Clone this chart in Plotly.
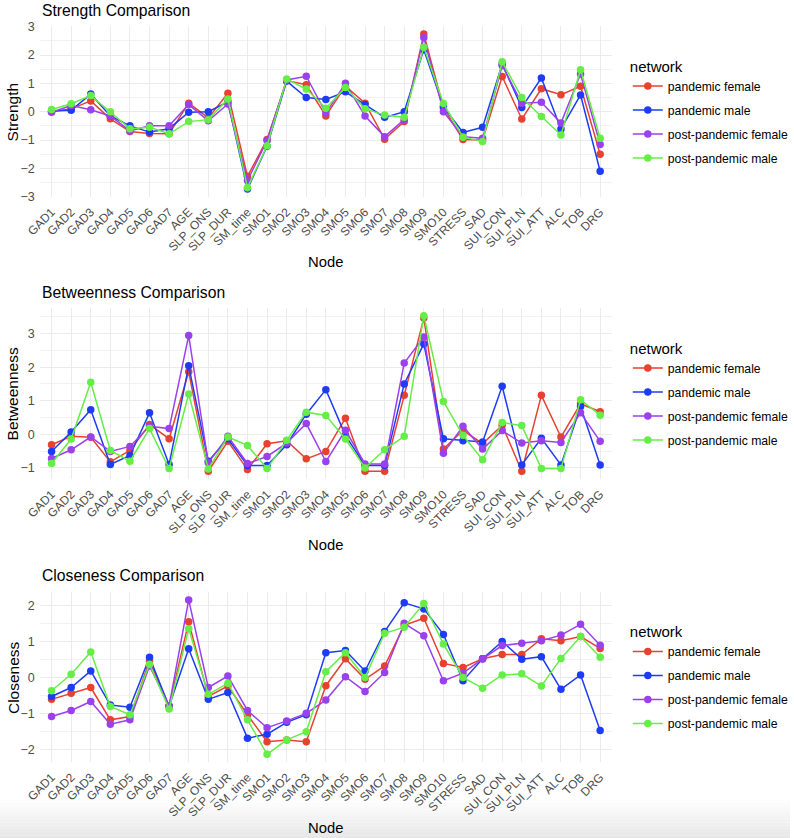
import plotly.graph_objects as go

nodes = ["GAD1", "GAD2", "GAD3", "GAD4", "GAD5", "GAD6", "GAD7", "AGE", "SLP_ONS", "SLP_DUR",
         "SM_time", "SMO1", "SMO2", "SMO3", "SMO4", "SMO5", "SMO6", "SMO7", "SMO8", "SMO9",
         "SMO10", "STRESS", "SAD", "SUI_CON", "SUI_PLN", "SUI_ATT", "ALC", "TOB", "DRG"]

networks = ["pandemic female", "pandemic male", "post-pandemic female", "post-pandemic male"]
colors = ["#E8412F", "#1E3CF5", "#9B40EE", "#64EE46"]

# Strength
str_pf = [0.00, 0.10, 0.38, -0.25, -0.70, -0.77, -0.78, 0.30, -0.22, 0.65,
          -2.28, -0.98, 1.10, 0.95, -0.15, 0.90, 0.30, -0.97, -0.35, 2.74,
          0.13, -0.98, -1.00, 1.24, -0.26, 0.81, 0.60, 0.90, -1.50]
str_pm = [0.02, 0.05, 0.62, -0.15, -0.50, -0.72, -0.60, -0.02, 0.00, 0.35,
          -2.73, -1.22, 1.08, 0.50, 0.43, 0.70, 0.25, -0.20, 0.00, 2.19,
          0.18, -0.73, -0.55, 1.68, 0.15, 1.19, -0.61, 0.59, -2.10]
str_ppf = [-0.02, 0.22, 0.07, -0.15, -0.68, -0.50, -0.50, 0.25, -0.32, 0.27,
           -2.43, -1.02, 1.12, 1.25, -0.05, 1.00, -0.15, -0.88, -0.28, 2.62,
           0.00, -0.88, -0.94, 1.63, 0.30, 0.33, -0.40, 1.33, -1.16]
str_ppm = [0.08, 0.28, 0.57, 0.00, -0.60, -0.55, -0.78, -0.35, -0.28, 0.45,
           -2.68, -1.20, 1.15, 0.80, 0.12, 0.85, 0.10, -0.12, -0.20, 2.27,
           0.29, -0.90, -1.05, 1.76, 0.50, -0.17, -0.82, 1.48, -0.94]

# Betweenness
bet_pf = [-0.31, -0.06, -0.09, -0.82, -0.48, 0.29, -0.13, 1.86, -1.10, -0.21,
          -1.05, -0.28, -0.19, -0.73, -0.51, 0.48, -1.10, -1.10, 1.16, 3.46,
          -0.44, 0.12, -0.28, 0.27, -1.10, 1.16, -0.08, 0.91, 0.67]
bet_pm = [-0.51, 0.07, 0.73, -0.90, -0.63, 0.64, -0.90, 2.04, -0.80, -0.13,
          -0.93, -0.93, -0.31, 0.60, 1.33, -0.03, -0.93, -0.93, 1.50, 2.69,
          -0.13, -0.19, -0.23, 1.43, -0.91, -0.12, -0.91, 0.83, -0.91]
bet_ppf = [-0.72, -0.46, -0.08, -0.51, -0.36, 0.24, 0.17, 2.94, -0.85, -0.06,
           -0.87, -0.66, -0.26, 0.32, -0.81, 0.12, -0.88, -0.88, 2.12, 2.90,
           -0.56, 0.24, -0.44, 0.11, -0.26, -0.19, -0.24, 0.64, -0.21]
bet_ppm = [-0.87, -0.14, 1.55, -0.48, -0.80, 0.17, -1.02, 1.20, -1.03, -0.08,
           -0.33, -1.02, -0.18, 0.66, 0.56, -0.14, -1.00, -0.46, -0.06, 3.53,
           0.98, -0.03, -0.76, 0.35, 0.26, -1.02, -1.02, 1.03, 0.57]

# Closeness
clo_pf = [-0.61, -0.44, -0.28, -1.18, -1.09, 0.46, -0.80, 1.55, -0.53, -0.24,
          -1.04, -1.79, -1.74, -1.79, -0.23, 0.52, -0.05, 0.32, 1.45, 1.65,
          0.39, 0.28, 0.52, 0.64, 0.64, 1.08, 1.02, 1.14, 0.81]
clo_pm = [-0.53, -0.28, 0.18, -0.77, -0.83, 0.56, -0.80, 0.80, -0.61, -0.42,
          -1.69, -1.58, -1.25, -1.04, 0.69, 0.75, 0.18, 1.28, 2.08, 1.91,
          1.20, -0.09, 0.52, 1.00, 0.51, 0.58, -0.33, 0.07, -1.48]
clo_ppf = [-1.09, -0.92, -0.67, -1.30, -1.18, 0.32, -0.79, 2.16, -0.28, 0.04,
           -0.92, -1.40, -1.21, -1.00, -0.63, 0.02, -0.39, 0.14, 1.51, 1.16,
           -0.09, 0.12, 0.52, 0.89, 0.95, 1.02, 1.18, 1.48, 0.90]
clo_ppm = [-0.37, 0.09, 0.71, -0.81, -1.04, 0.37, -0.88, 1.36, -0.47, -0.16,
           -1.18, -2.14, -1.74, -1.51, 0.16, 0.69, 0.00, 1.23, 1.40, 2.06,
           0.93, 0.00, -0.30, 0.07, 0.10, -0.24, 0.53, 1.14, 0.56]

panels = [
    ("Strength Comparison", "Strength", [str_pf, str_pm, str_ppf, str_ppm]),
    ("Betweenness Comparison", "Betweenness", [bet_pf, bet_pm, bet_ppf, bet_ppm]),
    ("Closeness Comparison", "Closeness", [clo_pf, clo_pm, clo_ppf, clo_ppm]),
]

W, H = 794, 838
FONT = "Liberation Sans, Arial, Helvetica, sans-serif"

# pixel geometry (top, bottom) of each plotting panel
panel_px = [(26.4, 196.7), (308.0, 479.0), (592.2, 762.0)]
yranges = [[-3.0, 3.01], [-1.33, 3.76], [-2.355, 2.375]]
title_y = [10, 292, 575]
node_y = [262, 545, 828]
x0, x1 = 40, 615

fig = go.Figure()
layout = dict(
    width=W, height=H, margin=dict(l=0, r=0, t=0, b=0),
    paper_bgcolor="white", plot_bgcolor="white",
    font=dict(family=FONT, color="#000000"),
    showlegend=True,
    annotations=[],
    shapes=[],
)

for i, (title, ylab, series) in enumerate(panels):
    k = "" if i == 0 else str(i + 1)
    xa, ya = "x" + k, "y" + k
    leg = "legend" + k
    for name, col, vals in zip(networks, colors, series):
        fig.add_trace(go.Scatter(
            x=nodes, y=vals, name=name, mode="lines+markers",
            line=dict(color=col, width=1.5),
            marker=dict(color=col, size=7.5),
            xaxis=xa, yaxis=ya, legend=leg, legendgroup=name + k,
        ))
    top, bot = panel_px[i]
    layout["xaxis" + k] = dict(
        domain=[x0 / W, x1 / W], anchor=ya, type="category",
        categoryorder="array", categoryarray=nodes,
        range=[-0.6, len(nodes) - 0.4],
        showgrid=True, gridcolor="#EBEBEB", gridwidth=1,
        zeroline=False, showline=False, ticks="",
        tickangle=-45, tickfont=dict(size=12, color="#4D4D4D", family=FONT),
        ticklabelstandoff=5,
        automargin=False,
    )
    layout["yaxis" + k] = dict(
        domain=[1 - bot / H, 1 - top / H], anchor=xa,
        range=yranges[i], dtick=1, tick0=0,
        showgrid=True, gridcolor="#EBEBEB", gridwidth=1.1,
        minor=dict(dtick=0.5, tick0=0, showgrid=True, gridcolor="#F2F2F2", gridwidth=0.6),
        zeroline=False, showline=False, ticks="",
        tickfont=dict(size=12.5, color="#4D4D4D", family=FONT),
        ticklabelstandoff=4,
        automargin=False,
    )
    mid = (top + bot) / 2
    layout[leg] = dict(
        x=631 / W, xanchor="left", y=1 - (mid + 1) / H, yanchor="middle",
        title=dict(text="network", font=dict(size=15, family=FONT, color="#000000")),
        font=dict(size=12.2, family=FONT, color="#000000"),
        bgcolor="rgba(0,0,0,0)", tracegroupgap=5, itemwidth=30,
    )
    layout["annotations"] += [
        dict(text=title, x=x0 / W, y=1 - title_y[i] / H, xref="paper", yref="paper",
             xanchor="left", yanchor="middle", showarrow=False,
             font=dict(size=15.7, family=FONT, color="#000000")),
        dict(text=ylab, x=13 / W, y=1 - mid / H, xref="paper", yref="paper",
             xanchor="center", yanchor="middle", showarrow=False, textangle=-90,
             font=dict(size=15.5, family=FONT, color="#000000")),
        dict(text="Node", x=((x0 + x1) / 2) / W, y=1 - node_y[i] / H, xref="paper", yref="paper",
             xanchor="center", yanchor="middle", showarrow=False,
             font=dict(size=14.8, family=FONT, color="#000000")),
    ]

# soft grey shading along the bottom edge (as in the reference screenshot)
shade_steps = 12
for s in range(shade_steps):
    ytop = 800 + s * 3.2
    g = int(255 - (s + 1) * 2)
    layout["shapes"].append(dict(
        type="rect", xref="paper", yref="paper", x0=0, x1=1,
        y0=1 - (ytop + 3.2) / H, y1=1 - ytop / H,
        fillcolor=f"rgb({g},{g},{g})", line=dict(width=0), layer="below",
    ))
layout["shapes"].append(dict(
    type="rect", xref="paper", yref="paper", x0=0, x1=1,
    y0=0, y1=1 - (800 + shade_steps * 3.2) / H,
    fillcolor="rgb(230,230,230)", line=dict(width=0), layer="below",
))

fig.update_layout(**layout)
fig.write_html("out.html")
